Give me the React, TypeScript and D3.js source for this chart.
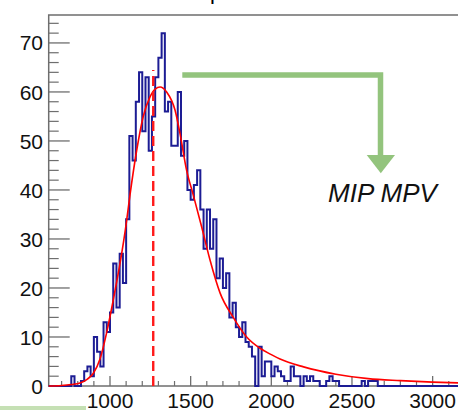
import React from "react";
import * as d3 from "d3";

// ---- data ----
const binStart = 620;
const binWidth = 20;
const counts = [
  0, 0, 0, 0, 0, 0, 0,
  2, 0, 0, 1, 3, 4, 2,
  10, 7, 4, 13, 11, 15, 25,
  16, 27, 21, 34, 51, 46, 58,
  64, 52, 63, 48, 55, 63, 67,
  72, 56, 58, 49, 49, 60, 47,
  50, 40, 38, 41, 44, 36, 28,
  36, 28, 34, 22, 26, 20, 23,
  14, 17, 12, 10, 13, 9, 8,
  6, 0, 8, 2, 5, 5, 2,
  4, 3, 2, 1, 1, 4, 2,
  2, 0, 2, 1, 2, 1, 1,
  0, 0, 1, 2, 1, 1, 0,
  0, 0, 0, 0, 0, 0, 1,
  0, 1, 1, 1, 0, 0, 0,
  0, 0, 0, 0, 0, 0, 0, 0, 0, 0, 0, 0,
  0, 0, 0, 0, 0, 0, 0, 0, 0, 0, 0, 0,
];
const fitX = [620, 700, 760, 814, 860, 897, 938, 980, 1020, 1062, 1100, 1124, 1165, 1206, 1248, 1280, 1310, 1351, 1403, 1434, 1475, 1516, 1568, 1620, 1682, 1764, 1847, 1930, 2000, 2054, 2200, 2400, 2600, 2800, 3000, 3200];
const fitY = [0, 0.1, 0.3, 0.6, 1.4, 2.6, 5.5, 11, 17.5, 25, 33, 39, 48, 55, 59, 60.6, 61, 60, 56.3, 51.5, 44, 39, 32.5, 25.7, 19, 14, 10, 7.7, 6.4, 5.5, 3.9, 2.4, 1.5, 1.1, 0.8, 0.6];
const mpv = 1268;
const mpvTop = 64.5;
const xMajorTicks = [1000, 1500, 2000, 2500, 3000];
const yMajorTicks = [0, 10, 20, 30, 40, 50, 60, 70];
const annotation = "MIP MPV";

const W = 458;
const H = 410;
const FONT = "'Liberation Sans', Arial, Helvetica, sans-serif";

export default function App() {
  const x = d3.scaleLinear().domain([620, 3200]).range([48.7, 464.9]);
  const y = d3.scaleLinear().domain([0, 75.7]).range([386, 15]);

  // histogram outline (step)
  const bins = counts.map((c, i) => ({ x0: binStart + i * binWidth, x1: binStart + (i + 1) * binWidth, c }));
  let hPath = "";
  bins.forEach((b, i) => {
    if (i === 0) hPath += `M${x(b.x0)},${y(b.c)}`;
    else hPath += `V${y(b.c)}`;
    hPath += `H${x(b.x1)}`;
  });

  const fitLine = d3
    .line<number>()
    .x((_, i) => x(fitX[i]))
    .y((d) => y(d))
    .curve(d3.curveMonotoneX)(fitY) as string;

  const xMinor = d3.range(700, 3201, 100).filter((v) => !xMajorTicks.includes(v));
  const yMinor = d3.range(0, 75, 2).filter((v) => v % 10 !== 0);

  const axisColor = "#6e6e6e";
  const green = "#93c47d";

  return (
    <svg width={W} height={H} style={{ position: "absolute", left: 0, top: 0, background: "#fff" }}>
      {/* partially visible title */}
      <text x={210} y={-1} fontFamily={FONT} fontSize={22} fill="#000">p</text>

      {/* frame */}
      <rect x={x(620)} y={y(75.7)} width={x(3200) - x(620)} height={y(0) - y(75.7)} fill="none" stroke={axisColor} strokeWidth={1.5} />

      {/* y ticks */}
      {yMajorTicks.map((t) => (
        <g key={"ym" + t}>
          <line x1={x(620)} x2={x(620) + 21} y1={y(t)} y2={y(t)} stroke={axisColor} strokeWidth={1.3} />
          <text x={43} y={y(t)} dy="0.36em" textAnchor="end" fontFamily={FONT} fontSize={21} fill="#111">{t}</text>
        </g>
      ))}
      {yMinor.map((t) => (
        <line key={"yn" + t} x1={x(620)} x2={x(620) + 10} y1={y(t)} y2={y(t)} stroke={axisColor} strokeWidth={1.2} />
      ))}

      {/* x ticks */}
      {xMajorTicks.map((t) => (
        <g key={"xm" + t}>
          <line x1={x(t)} x2={x(t)} y1={y(0)} y2={y(0) - 10} stroke={axisColor} strokeWidth={1.3} />
          <text x={x(t)} y={408} textAnchor="middle" fontFamily={FONT} fontSize={21} fill="#111">{t}</text>
        </g>
      ))}
      {xMinor.map((t) => (
        <line key={"xn" + t} x1={x(t)} x2={x(t)} y1={y(0)} y2={y(0) - 5} stroke={axisColor} strokeWidth={1.2} />
      ))}

      {/* histogram */}
      <path d={hPath} fill="none" stroke="#1c1c94" strokeWidth={2} />

      {/* fit */}
      <path d={fitLine} fill="none" stroke="#ff0000" strokeWidth={1.6} />

      {/* MPV dashed line */}
      <line x1={x(mpv)} x2={x(mpv)} y1={y(0)} y2={y(mpvTop)} stroke="#ff1a1a" strokeWidth={2.4} strokeDasharray="10,5" />

      {/* green annotation arrow */}
      <path d="M182.3,75 H380.5 V156" fill="none" stroke={green} strokeWidth={5.5} />
      <path d="M366.7,155 L395,155 L380.8,173.3 Z" fill={green} />
      <text x={328} y={201.5} fontFamily={FONT} fontStyle="italic" fontSize={26} fill="#111">{annotation}</text>

      {/* light green strip bottom-left */}
      <rect x={0} y={406} width={86} height={4} fill="#c5e0b4" />
    </svg>
  );
}
